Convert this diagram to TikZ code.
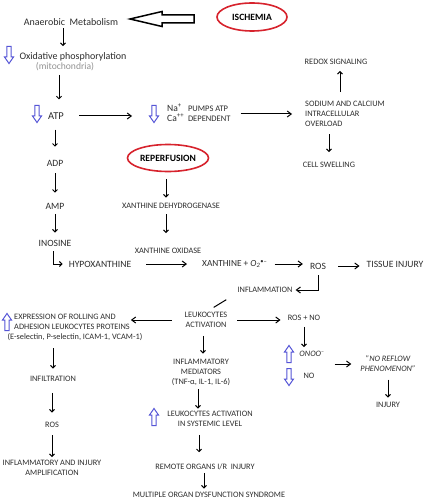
\documentclass[tikz,border=0pt]{standalone}
\usepackage{fontspec}
\setmainfont{Carlito}
\usetikzlibrary{arrows.meta,shapes.geometric}
\definecolor{txtgray}{RGB}{45,45,45}
\definecolor{markblue}{RGB}{85,85,215}
\definecolor{ringred}{RGB}{215,35,45}
\begin{document}
\begin{tikzpicture}[x=1pt,y=-1pt,>={Straight Barb[length=2.5pt,width=5pt]}]
  \tikzstyle{lbl}=[inner sep=0pt,text=txtgray,font=\fontsize{8.3}{10}\selectfont,align=center]
  \tikzstyle{big}=[lbl,font=\fontsize{9.6}{11}\selectfont]
  \tikzstyle{ring}=[draw=ringred,ellipse,line width=1.6pt,inner sep=0pt,font=\fontsize{9.6}{11}\selectfont\bfseries]
  \tikzstyle{arr}=[->,line width=1pt]
  \tikzstyle{harr}=[-{Straight Barb[length=4pt,width=6pt]},line width=1pt]
  \tikzstyle{hollow}=[draw=markblue,fill=white,line width=1pt,line join=miter]
  \tikzset{downmark/.pic={\draw[hollow] (-2.2,-8.5) -- (2.2,-8.5) -- (2.2,2) -- (4.5,2) -- (0,8.5) -- (-4.5,2) -- (-2.2,2) -- cycle;},
    upmark/.pic={\draw[hollow] (-2.2,8.5) -- (2.2,8.5) -- (2.2,-2) -- (4.5,-2) -- (0,-8.5) -- (-4.5,-2) -- (-2.2,-2) -- cycle;}}
  \useasboundingbox[fill=white] (0,0) rectangle (425,500);
  % ischemia branch
  \node[big,font=\fontsize{10}{12}\selectfont] (anaer) at (71,22) {Anaerobic\ \ Metabolism};
  \node[ring,minimum width=70pt,minimum height=28pt] (isch) at (252,17) {ISCHEMIA};
  \draw[line width=1.5pt,line join=miter] (130,19) -- (162,11.5) -- (162,15) -- (194,15) -- (194,23) -- (162,23) -- (162,26.5) -- cycle;
  \node[big,font=\fontsize{10}{12}\selectfont] (oxid) at (73,57) {Oxidative phosphorylation};
  \node[lbl,text=gray!85,font=\fontsize{9.6}{11}\selectfont] (mito) at (65,67) {(mitochondria)};
  \node[big,font=\fontsize{10.5}{12}\selectfont] (atp) at (56,116) {ATP};
  \node[lbl,anchor=west,font=\fontsize{8.5}{10}\selectfont] (napump) at (167,114) {\begin{tabular}{@{}l@{\ \ }l@{}}{\fontsize{9.6}{10}\selectfont Na\textsuperscript{+}} & PUMPS ATP\\{\fontsize{9.6}{10}\selectfont Ca\textsuperscript{++}} & DEPENDENT\end{tabular}};
  \node[lbl,align=left,anchor=west] (sodium) at (305,114) {SODIUM AND CALCIUM\\INTRACELLULAR\\OVERLOAD};
  \node[lbl] (redox) at (336,62) {REDOX SIGNALING};
  \node[lbl] (cell) at (329,165) {CELL SWELLING};
  \node[big] (adp) at (55,163) {ADP};
  \node[big] (amp) at (55,206) {AMP};
  \node[big] (ino) at (55,243) {INOSINE};
  \node[big] (hypox) at (100,264) {HYPOXANTHINE};
  % reperfusion branch
  \node[ring,minimum width=81pt,minimum height=27pt] (reperf) at (168,158) {REPERFUSION};
  \node[lbl] (xdh) at (171,206) {XANTHINE DEHYDROGENASE};
  \node[lbl] (xo) at (168,251) {XANTHINE OXIDASE};
  \node[big,anchor=west,font=\fontsize{9.3}{11}\selectfont] (xanth) at (202,264) {XANTHINE + {\itshape O\textsubscript{2}}\textsuperscript{\textbullet--}};
  \node[big] (ros) at (318,266) {ROS};
  \node[big] (tissue) at (395,264) {TISSUE INJURY};
  \node[lbl] (inflam) at (265,290) {INFLAMMATION};
  \node[lbl] (leuk) at (206,320) {LEUKOCYTES\\ACTIVATION};
  \node[lbl,align=left,anchor=west] (expr) at (14,322) {EXPRESSION OF ROLLING AND\\ADHESION LEUKOCYTES PROTEINS};
  \node[lbl] (sel) at (75,337) {(E-selectin, P-selectin, ICAM-1, VCAM-1)};
  \node[lbl] (rosno) at (304,318) {ROS + NO};
  \node[lbl,font=\fontsize{8.3}{10}\selectfont\itshape] (onoo) at (312,354) {ONOO\textsuperscript{--}};
  \node[lbl] (nolow) at (309,376) {NO};
  \node[lbl,font=\fontsize{8.3}{10}\selectfont\itshape] (noreflow) at (388,364) {"NO REFLOW\\PHENOMENON"};
  \node[lbl] (injury) at (388,405) {INJURY};
  \node[lbl] (infmed) at (201,372) {INFLAMMATORY\\MEDIATORS\\(TNF-α, IL-1, IL-6)};
  \node[lbl] (leuksys) at (210,418.5) {LEUKOCYTES ACTIVATION\\IN SYSTEMIC LEVEL};
  \node[lbl] (remote) at (205,467) {REMOTE ORGANS I/R\ \ INJURY};
  \node[lbl] (mods) at (209,494.5) {MULTIPLE ORGAN DYSFUNCTION SYNDROME};
  \node[lbl] (infil) at (53,379) {INFILTRATION};
  \node[lbl] (ros2) at (52,425) {ROS};
  \node[lbl] (amplif) at (52,468) {INFLAMMATORY AND INJURY\\AMPLIFICATION};
  % blue marks
  \pic at (9,55) {downmark};
  \pic at (37,114) {downmark};
  \pic at (154,114) {downmark};
  \pic at (7,322) {upmark};
  \pic at (289,354) {upmark};
  \pic at (289,377) {downmark};
  \pic at (154,417) {upmark};
  % connectors
  \draw[arr,shorten <=2.5pt,shorten >=6.5pt] ([xshift=-8pt]anaer.south) -- ([xshift=-8pt]anaer.south |- oxid.north);
  \draw[arr,shorten <=3.5pt,shorten >=13pt] ([xshift=-6pt]mito.south) -- ([xshift=-6pt]mito.south |- atp.north);
  \draw[arr,shorten <=10pt,shorten >=13pt] (adp |- atp.south) -- (adp.north);
  \draw[arr,shorten <=7pt,shorten >=10pt] (adp.south) -- (amp.north);
  \draw[arr,shorten <=4.5pt,shorten >=7pt] (amp.south) -- (ino.north);
  \draw[arr,shorten <=5pt,shorten >=6pt] ([xshift=-2pt]ino.south) |- (hypox.west);
  \draw[harr,shorten <=15pt,shorten >=35pt] (atp.east) -- (atp.east -| napump.west);
  \draw[harr,shorten <=10pt,shorten >=13pt] (napump.east) -- (napump.east -| sodium.west);
  \draw[arr,shorten <=9pt,shorten >=6pt] ([xshift=4pt]redox.south |- sodium.north) -- ([xshift=4pt]redox.south);
  \draw[arr,shorten <=7.5pt,shorten >=10pt] (cell |- sodium.south) -- (cell.north);
  \draw[arr,shorten <=6.5pt,shorten >=5.5pt] ([xshift=-2pt]reperf.south) -- ([xshift=-2pt]reperf.south |- xdh.north);
  \draw[arr,shorten <=5.5pt,shorten >=15pt] ([xshift=-5pt]xdh.south) -- ([xshift=-5pt]xdh.south |- xo.north);
  \draw[harr,shorten <=15pt,shorten >=15pt] (hypox.east) -- (hypox.east -| xanth.west);
  \draw[harr,shorten <=7pt,shorten >=7pt] (xanth.east) -- (xanth.east -| ros.west);
  \draw[harr,shorten <=12pt,shorten >=7pt] (ros.east) -- (ros.east -| tissue.west);
  \draw[harr,shorten <=6pt,shorten >=3pt] (ros.south) |- (inflam.east);
  \draw[line width=1pt,shorten <=13pt,shorten >=9pt] (inflam.south west) -- (leuk.north);
  \draw[harr,shorten <=10pt,shorten >=7pt] (leuk.east) -- (leuk.east -| rosno.west);
  \draw[harr,shorten <=13pt,shorten >=1pt] (leuk.west) -- (leuk.west -| expr.east);
  \draw[arr,shorten <=8pt,shorten >=5pt] ([xshift=-3pt]leuk.south) -- ([xshift=-3pt]leuk.south |- infmed.north);
  \draw[arr,shorten <=6pt,shorten >=4pt] (rosno.south) -- (rosno.south |- onoo.north);
  \draw[harr,shorten <=10pt,shorten >=9pt] (onoo.east |- noreflow.west) -- (noreflow.west);
  \draw[arr,shorten <=7.5pt,shorten >=4.5pt] (noreflow.south) -- (injury.north);
  \draw[arr,shorten <=7.5pt,shorten >=7.5pt] (infil |- sel.south) -- (infil.north);
  \draw[arr,shorten <=11pt,shorten >=9.5pt] (ros2 |- infil.south) -- (ros2.north);
  \draw[arr,shorten <=7.5pt,shorten >=3pt] (ros2.south) -- (amplif.north);
  \draw[arr,shorten <=4pt,shorten >=2pt] ([xshift=-3pt]infmed.south) -- ([xshift=-3pt]infmed.south |- leuksys.north);
  \draw[arr,shorten <=8.5pt,shorten >=11.5pt] ([xshift=-11pt]leuksys.south) -- ([xshift=-11pt]leuksys.south |- remote.north);
  \draw[arr,shorten <=2.5pt,shorten >=3pt] ([xshift=-1pt]remote.south) -- ([xshift=-1pt]remote.south |- mods.north);
\end{tikzpicture}
\end{document}
